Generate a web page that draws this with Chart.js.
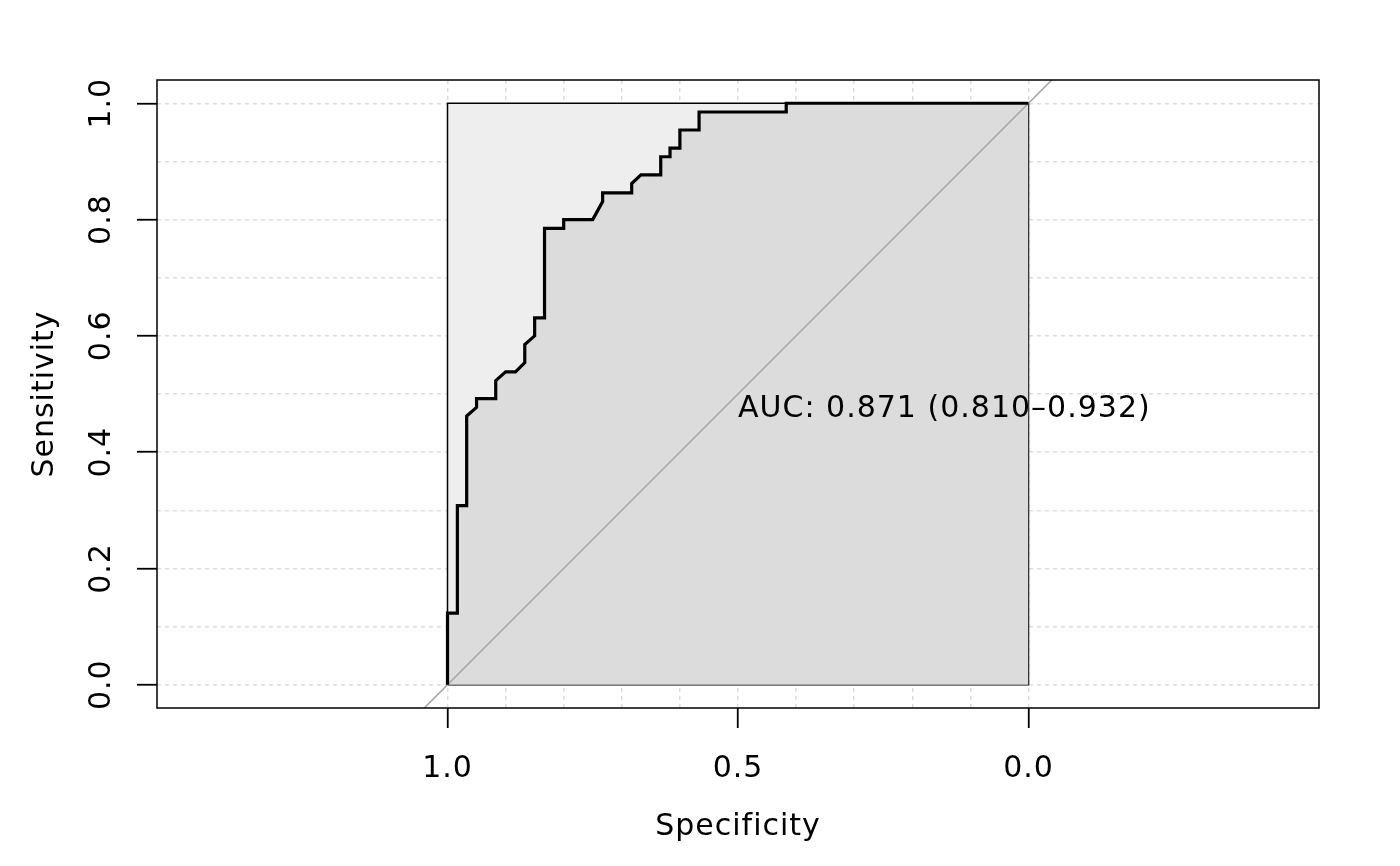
<!DOCTYPE html>
<html>
<head>
<meta charset="utf-8">
<title>ROC curve</title>
<script src="https://cdn.jsdelivr.net/npm/chart.js"></script>
<style>
    html, body { margin: 0; padding: 0; background: #ffffff; }
    #rocChart { display: block; }
</style>
</head>
<body>
<canvas id="rocChart" width="1400" height="866" style="width:1400px;height:866px"></canvas>
<script>
// ROC curve points (specificity on x, sensitivity on y)
var specificity = [1, 1, 0.983, 0.983, 0.967, 0.967, 0.95, 0.95, 0.917, 0.917, 0.9, 0.883, 0.867, 0.867,
    0.85, 0.85, 0.833, 0.833, 0.8, 0.8, 0.75, 0.733, 0.733, 0.683, 0.683, 0.667, 0.633, 0.633,
    0.617, 0.617, 0.6, 0.6, 0.567, 0.567, 0.417, 0.417, 0];
var sensitivity = [0, 0.123, 0.123, 0.308, 0.308, 0.462, 0.477, 0.492, 0.492, 0.523, 0.538, 0.538, 0.554, 0.585,
    0.6, 0.631, 0.631, 0.785, 0.785, 0.8, 0.8, 0.831, 0.846, 0.846, 0.862, 0.877, 0.877, 0.908,
    0.908, 0.923, 0.923, 0.954, 0.954, 0.985, 0.985, 1, 1];

// max AUC square and the chance diagonal
var maxPolySpec = [1, 1, 0, 0, 1];
var maxPolySens = [0, 1, 1, 0, 0];
var chanceSpec = [1.1, -0.1];
var chanceSens = [-0.1, 1.1];

var xTickValues = [1, 0.5, 0];
var xTickLabels = ['1.0', '0.5', '0.0'];
var yTickValues = [0, 0.2, 0.4, 0.6, 0.8, 1];
var yTickLabels = ['0.0', '0.2', '0.4', '0.6', '0.8', '1.0'];

var aucLabel = 'AUC: 0.871 (0.810\u20130.932)';
var xTitle = 'Specificity';
var yTitle = 'Sensitivity';

function toPoints(xs, ys) {
    return xs.map(function (x, i) { return { x: x, y: ys[i] }; });
}

function near(v, list) {
    return list.some(function (t) { return Math.abs(t - v) < 1e-6; });
}

function gridColor(ctx) {
    var v = ctx.tick ? ctx.tick.value : 0;
    return (v > -1e-6 && v < 1 + 1e-6) ? '#dddddd' : 'rgba(0,0,0,0)';
}

var textFont = '30px "DejaVu Sans"';

var rocDecorations = {
    id: 'rocDecorations',
    afterDraw: function (chart) {
        var ctx = chart.ctx;
        var area = chart.chartArea;
        var xs = chart.scales.x;
        var ys = chart.scales.y;

        ctx.save();
        // plot box
        ctx.strokeStyle = '#000000';
        ctx.lineWidth = 1.5;
        ctx.strokeRect(area.left, area.top, area.right - area.left, area.bottom - area.top);

        ctx.fillStyle = '#000000';
        ctx.font = textFont;
        if ('letterSpacing' in ctx) ctx.letterSpacing = '1px';

        // AUC text
        ctx.textAlign = 'left';
        ctx.textBaseline = 'alphabetic';
        ctx.fillText(aucLabel, xs.getPixelForValue(0.5), ys.getPixelForValue(0.461));

        // x tick labels + title
        ctx.textAlign = 'center';
        xTickValues.forEach(function (v, i) {
            ctx.fillText(xTickLabels[i], xs.getPixelForValue(v), 777);
        });
        ctx.fillText(xTitle, (area.left + area.right) / 2, 835);

        // y tick labels + title, rotated
        yTickValues.forEach(function (v, i) {
            ctx.save();
            ctx.translate(110, ys.getPixelForValue(v));
            ctx.rotate(-Math.PI / 2);
            ctx.fillText(yTickLabels[i], 0, 0);
            ctx.restore();
        });
        ctx.save();
        ctx.translate(53, (area.top + area.bottom) / 2);
        ctx.rotate(-Math.PI / 2);
        ctx.fillText(yTitle, 0, 0);
        ctx.restore();

        ctx.restore();
    }
};

var chart = new Chart(document.getElementById('rocChart').getContext('2d'), {
    type: 'scatter',
    data: {
        datasets: [{
            label: 'ROC',
            data: toPoints(specificity, sensitivity),
            showLine: true,
            borderColor: '#000000',
            borderWidth: 3.2,
            pointRadius: 0,
            fill: false,
            order: 0
        }, {
            label: 'chance',
            data: toPoints(chanceSpec, chanceSens),
            showLine: true,
            borderColor: '#a9a9a9',
            borderWidth: 1.6,
            pointRadius: 0,
            fill: false,
            clip: 0,
            order: 1
        }, {
            label: 'AUC polygon',
            data: toPoints(specificity, sensitivity),
            showLine: true,
            borderWidth: 0,
            borderColor: 'rgba(0,0,0,0)',
            backgroundColor: '#dcdcdc',
            pointRadius: 0,
            fill: { value: 0 },
            order: 2
        }, {
            label: 'max AUC polygon',
            data: toPoints(maxPolySpec, maxPolySens),
            showLine: true,
            borderColor: '#000000',
            borderWidth: 1.5,
            backgroundColor: '#eeeeee',
            pointRadius: 0,
            fill: 'shape',
            order: 3
        }]
    },
    options: {
        responsive: false,
        animation: false,
        layout: { padding: { left: 0, top: 80, right: 81, bottom: 0 } },
        plugins: {
            legend: { display: false },
            tooltip: { enabled: false }
        },
        elements: { line: { tension: 0 } },
        scales: {
            x: {
                type: 'linear',
                reverse: true,
                min: -0.5,
                max: 1.5,
                afterFit: function (scale) { scale.height = 158; },
                ticks: { display: false, stepSize: 0.1, includeBounds: false },
                border: { display: false, dash: [4, 4] },
                grid: {
                    color: gridColor,
                    lineWidth: 1.5,
                    tickLength: 20,
                    tickWidth: 1.8,
                    tickBorderDash: [],
                    tickColor: function (ctx) {
                        return ctx.tick && near(ctx.tick.value, xTickValues) ? '#000000' : 'rgba(0,0,0,0)';
                    }
                }
            },
            y: {
                type: 'linear',
                min: -0.04,
                max: 1.04,
                afterFit: function (scale) { scale.width = 157; },
                ticks: { display: false, stepSize: 0.1, includeBounds: false },
                border: { display: false, dash: [4, 4] },
                grid: {
                    color: gridColor,
                    lineWidth: 1.5,
                    tickLength: 20,
                    tickWidth: 1.8,
                    tickBorderDash: [],
                    tickColor: function (ctx) {
                        return ctx.tick && near(ctx.tick.value, yTickValues) ? '#000000' : 'rgba(0,0,0,0)';
                    }
                }
            }
        }
    },
    plugins: [rocDecorations]
});
</script>
</body>
</html>
